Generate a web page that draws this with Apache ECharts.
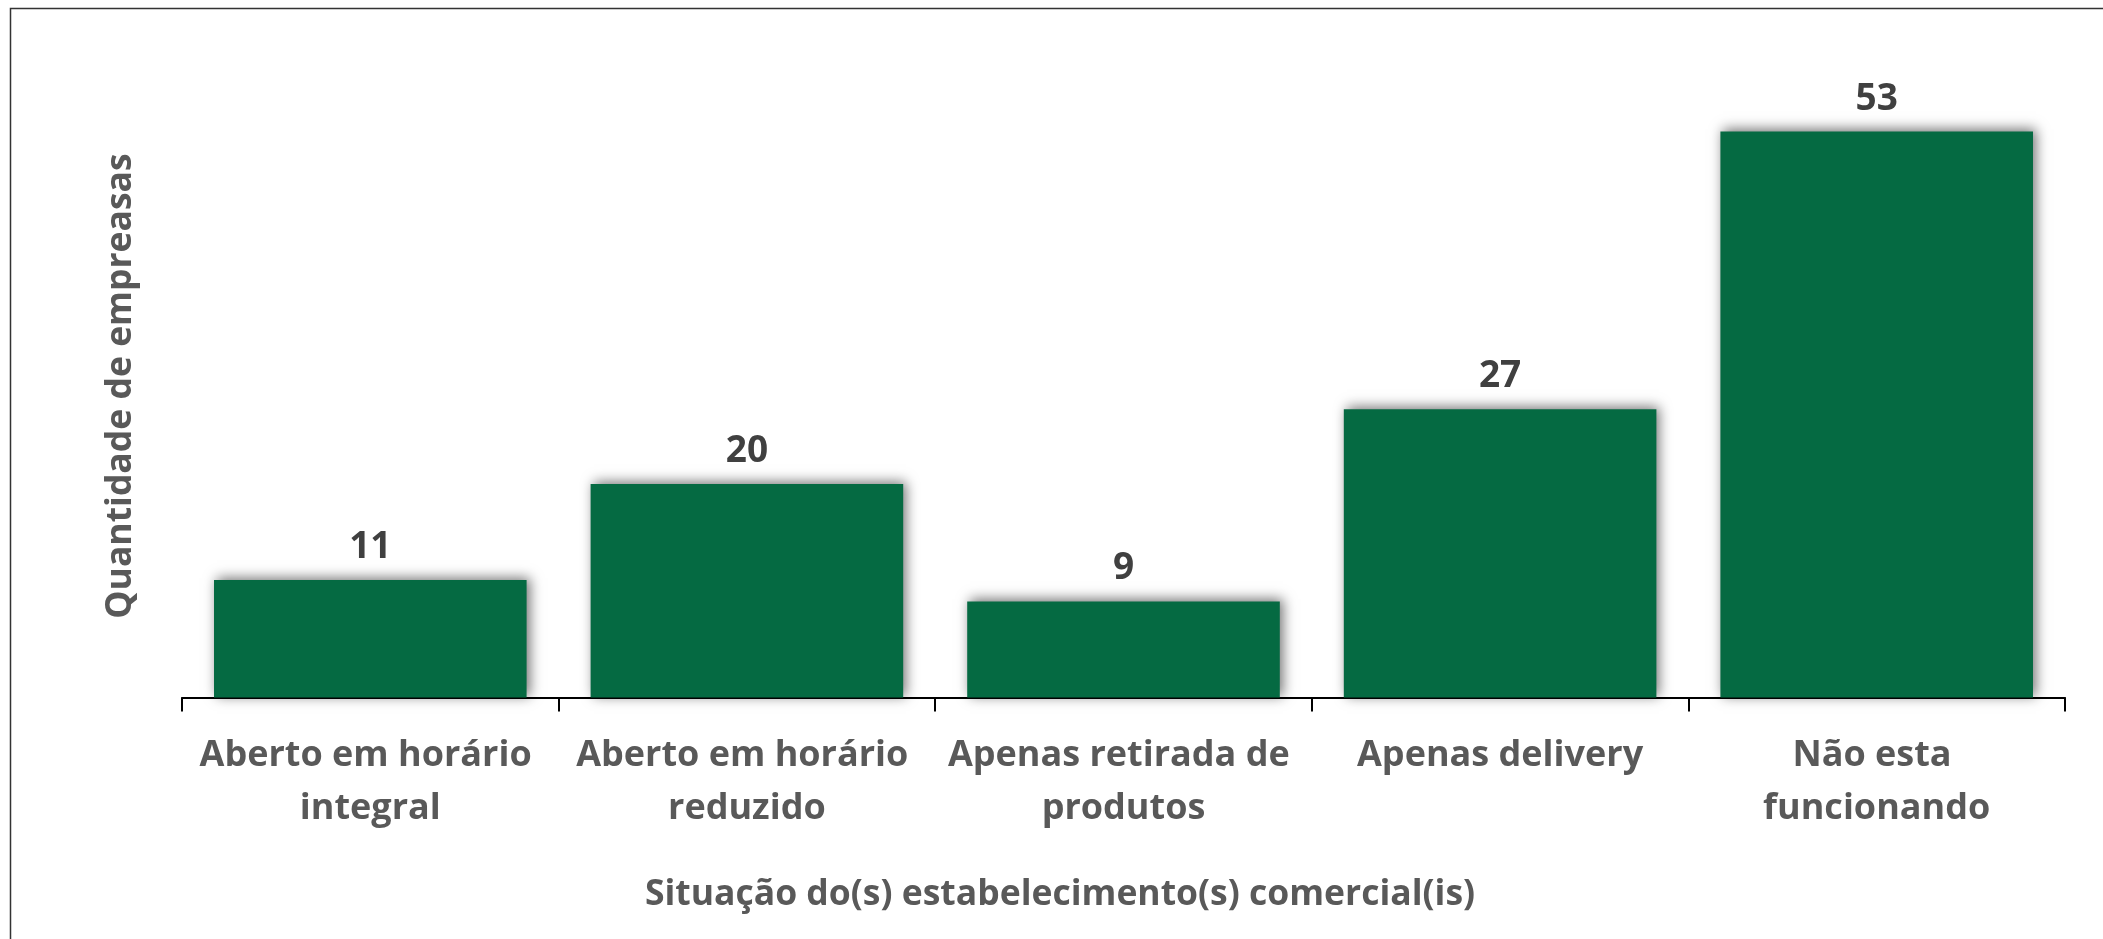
<!DOCTYPE html>
<html>
<head>
<meta charset="utf-8">
<script src="https://cdn.jsdelivr.net/npm/echarts@6/dist/echarts.min.js"></script>
<style>
html,body{margin:0;padding:0;background:#fff;}
#chart{width:2103px;height:939px;}
</style>
</head>
<body>
<div id="chart"></div>
<script>
const categories = ['Aberto em horário integral', 'Aberto em horário reduzido', 'Apenas retirada de produtos', 'Apenas delivery', 'Não esta funcionando'];
const values = [11, 20, 9, 27, 53];
const xTitle = 'Situação do(s) estabelecimento(s) comercial(is)';
const yTitle = 'Quantidade de empreasas';

const FONT = '"Open Sans", sans-serif';
const chart = echarts.init(document.getElementById('chart'), null, {renderer: 'canvas'});
chart.setOption({
  animation: false,
  backgroundColor: '#ffffff',
  grid: {left: 182, right: 38, top: 56.7, bottom: 241.5, containLabel: false},
  xAxis: {
    type: 'category',
    data: categories,
    axisLine: {show: true, lineStyle: {color: '#000', width: 2}},
    axisTick: {show: true, length: 14, lineStyle: {color: '#000', width: 2}},
    axisLabel: {
      interval: 0, margin: 32, color: '#595959', fontFamily: FONT, fontWeight: 'bold',
      fontSize: 36, lineHeight: 53, width: 370, overflow: 'break'
    },
    splitLine: {show: false}
  },
  yAxis: {
    type: 'value', min: 0, max: 60,
    axisLine: {show: false}, axisTick: {show: false}, axisLabel: {show: false}, splitLine: {show: false}
  },
  series: [{
    type: 'bar',
    data: values,
    barCategoryGap: '17%',
    itemStyle: {
      color: '#056A42',
      shadowColor: 'rgba(0,0,0,0.55)', shadowBlur: 12, shadowOffsetX: 3, shadowOffsetY: -2
    },
    label: {
      show: true, position: 'top', distance: 14,
      color: '#404040', fontFamily: FONT, fontWeight: 'bold', fontSize: 37
    }
  }],
  graphic: [
    {type: 'rect', shape: {x: 10.5, y: 8.5, width: 2200, height: 1000},
     style: {fill: 'none', stroke: '#333', lineWidth: 1.5}, silent: true},
    {type: 'text', x: 1060, y: 895,
     style: {text: xTitle, fill: '#595959', font: 'bold 35.5px "Open Sans", sans-serif', textAlign: 'center', textVerticalAlign: 'middle'}},
    {type: 'text', x: 121, y: 386, rotation: Math.PI / 2,
     style: {text: yTitle, fill: '#595959', font: 'bold 35.5px "Open Sans", sans-serif', textAlign: 'center', textVerticalAlign: 'middle'}}
  ]
});
</script>
</body>
</html>
